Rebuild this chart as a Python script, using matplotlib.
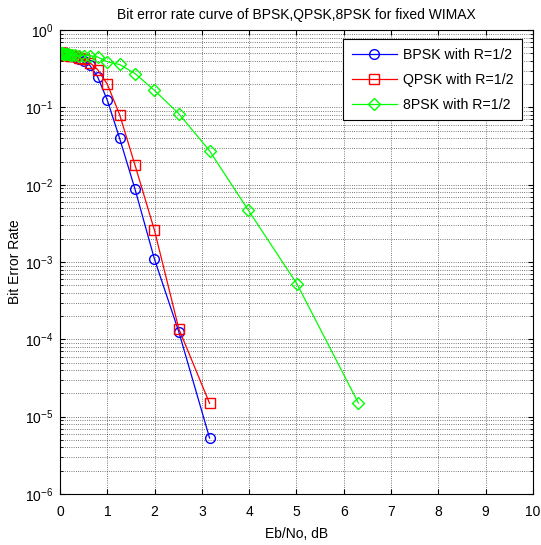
import matplotlib.pyplot as plt
import numpy as np

plt.rcParams['font.family'] = ['Liberation Sans', 'DejaVu Sans']
plt.rcParams['mathtext.fontset'] = 'custom'
plt.rcParams['mathtext.rm'] = 'Liberation Sans'
plt.rcParams['mathtext.it'] = 'Liberation Sans'

# x values (linear Eb/No, plotted on axis labelled dB)
x_psk = [0.010, 0.013, 0.016, 0.020, 0.025, 0.032, 0.040, 0.050, 0.063, 0.079,
         0.100, 0.126, 0.158, 0.200, 0.251, 0.316, 0.398, 0.501, 0.631, 0.794,
         1.000, 1.259, 1.585, 1.995, 2.512, 3.162]
x_8psk = x_psk + [3.981, 5.012, 6.310]

ber_bpsk = [0.50, 0.50, 0.50, 0.50, 0.50, 0.49, 0.49, 0.49, 0.49, 0.49,
            0.48, 0.48, 0.47, 0.47, 0.46, 0.45, 0.43, 0.40, 0.35, 0.25,
            0.124, 0.040, 0.0088, 0.0011, 1.25e-4, 5.3e-6]
ber_qpsk = [0.50, 0.50, 0.50, 0.50, 0.50, 0.50, 0.49, 0.49, 0.49, 0.49,
            0.49, 0.48, 0.48, 0.47, 0.47, 0.46, 0.44, 0.42, 0.38, 0.31,
            0.20, 0.081, 0.018, 0.0026, 1.37e-4, 1.49e-5]
ber_8psk = [0.50, 0.50, 0.50, 0.50, 0.50, 0.50, 0.50, 0.50, 0.49, 0.49,
            0.49, 0.49, 0.49, 0.48, 0.48, 0.48, 0.47, 0.47, 0.47, 0.45,
            0.39, 0.36, 0.275, 0.167, 0.083, 0.0275, 4.7e-3, 5.2e-4, 1.5e-5]

labels = ['BPSK with R=1/2', 'QPSK with R=1/2', '8PSK with R=1/2']

fig = plt.figure(figsize=(5.41, 5.45), dpi=100)
ax = fig.add_axes([0.111, 0.0936, 0.874, 0.851])

ax.semilogy(x_psk, ber_bpsk, 'b-o', mfc='none', ms=7, lw=0.9, label=labels[0])
ax.semilogy(x_psk, ber_qpsk, 'r-s', mfc='none', ms=7, lw=0.9, label=labels[1])
ax.semilogy(x_8psk, ber_8psk, '-D', color=(0, 1, 0), mfc='none', ms=6, lw=0.9,
            label=labels[2])

ax.set_xlim(0, 10)
ax.set_ylim(1e-6, 1)
ax.set_xticks(np.arange(0, 11, 1))

ax.grid(True, which='major', color='k', linestyle=':', linewidth=0.6, alpha=0.7)
ax.grid(True, which='minor', axis='y', color='k', linestyle=':', linewidth=0.6, alpha=0.7)
ax.tick_params(which='both', direction='in', top=True, right=True, labelsize=10)
ax.tick_params(axis='x', pad=8)
ax.tick_params(axis='y', pad=5)
for s in ax.spines.values():
    s.set_linewidth(0.8)

ax.set_xlabel('Eb/No, dB', fontsize=10, labelpad=6)
ax.set_ylabel('Bit Error Rate', fontsize=10, labelpad=2)
ax.set_title('Bit error rate curve of BPSK,QPSK,8PSK for fixed WIMAX', fontsize=10, pad=8)

leg = ax.legend(loc='upper right', fontsize=10.2, fancybox=False, framealpha=1,
                edgecolor='k', borderpad=0.6, labelspacing=0.78, handlelength=3.2,
                handletextpad=0.45, borderaxespad=0, bbox_to_anchor=(0.978, 0.981))
leg.get_frame().set_linewidth(0.8)

plt.savefig('out.png', dpi=100)
